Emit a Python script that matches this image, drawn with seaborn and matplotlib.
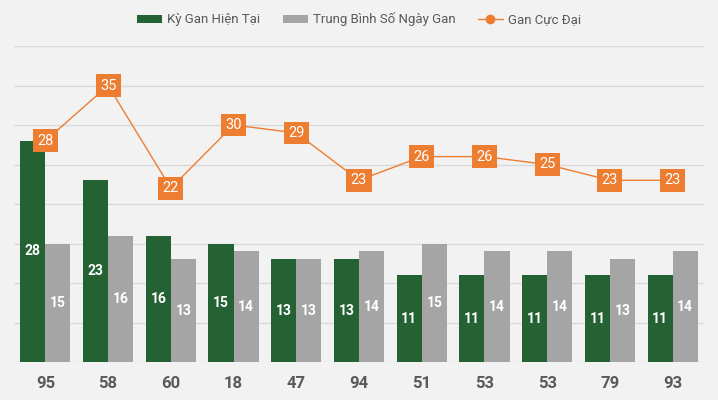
import numpy as np
import pandas as pd
import matplotlib
matplotlib.use("Agg")
import matplotlib.pyplot as plt
import seaborn as sns
from matplotlib.patches import Patch
from matplotlib.lines import Line2D

# data
numbers = ["95", "58", "60", "18", "47", "94", "51", "53", "53", "79", "93"]
ky_gan_hien_tai = [28, 23, 16, 15, 13, 13, 11, 11, 11, 11, 11]
trung_binh = [15, 16, 13, 14, 13, 14, 15, 14, 14, 13, 14]
gan_cuc_dai = [28, 35, 22, 30, 29, 23, 26, 26, 25, 23, 23]

s1 = "Kỳ Gan Hiện Tại"
s2 = "Trung Bình Số Ngày Gan"
s3 = "Gan Cực Đại"

green = "#256233"
gray = "#A5A5A5"
orange = "#ED7D31"
bg = "#F2F2F2"

sns.set_style("white")
plt.rcParams["font.family"] = ["Roboto", "DejaVu Sans"]

pos = list(range(len(numbers)))
df = pd.DataFrame({
    "pos": pos * 2,
    "series": [s1] * len(pos) + [s2] * len(pos),
    "value": ky_gan_hien_tai + trung_binh,
})

fig = plt.figure(figsize=(7.18, 4.0), dpi=100, facecolor=bg)
ax = fig.add_axes([0.0195, 0.095, 0.961, 0.79])
ax.set_facecolor(bg)

sns.barplot(data=df, x="pos", y="value", hue="series", hue_order=[s1, s2],
            palette=[green, gray], width=0.8, gap=0, saturation=1,
            errorbar=None, ax=ax, legend=False, linewidth=0)

for cont in ax.containers:
    ax.bar_label(cont, label_type="center", color="white",
                 fontsize=10, fontweight="bold")

ax.plot(pos, gan_cuc_dai, color=orange, lw=1, zorder=3)
for x, v in zip(pos, gan_cuc_dai):
    ax.text(x, v, str(v), ha="center", va="center", color="white",
            fontsize=10.5, zorder=4,
            bbox=dict(boxstyle="square,pad=0.3", fc=orange, ec="none"))

ax.set_ylim(0, 40)
ax.set_xlim(-0.5, len(numbers) - 0.5)
ax.set_yticks(np.arange(0, 41, 5))
ax.set_yticklabels([])
ax.grid(axis="y", color="#D9D9D9", lw=1)
ax.set_axisbelow(True)
ax.set_xticks(pos)
ax.set_xticklabels(numbers, fontsize=12, fontweight="bold", color="#595959")
ax.tick_params(axis="both", length=0)
ax.tick_params(axis="x", pad=10)
ax.set_xlabel("")
ax.set_ylabel("")
for sp in ax.spines.values():
    sp.set_visible(False)

handles = [
    Patch(facecolor=green, edgecolor="none"),
    Patch(facecolor=gray, edgecolor="none"),
    Line2D([0], [0], color=orange, lw=1, marker="o", markersize=6),
]
fig.legend(handles, [s1, s2, s3], loc="center", bbox_to_anchor=(0.5, 0.952),
           ncol=3, frameon=False, fontsize=9.5, labelcolor="#595959",
           handlelength=1.9, handleheight=0.55, columnspacing=1.7,
           handletextpad=0.4)

fig.savefig("out.png", dpi=100, facecolor=bg)
